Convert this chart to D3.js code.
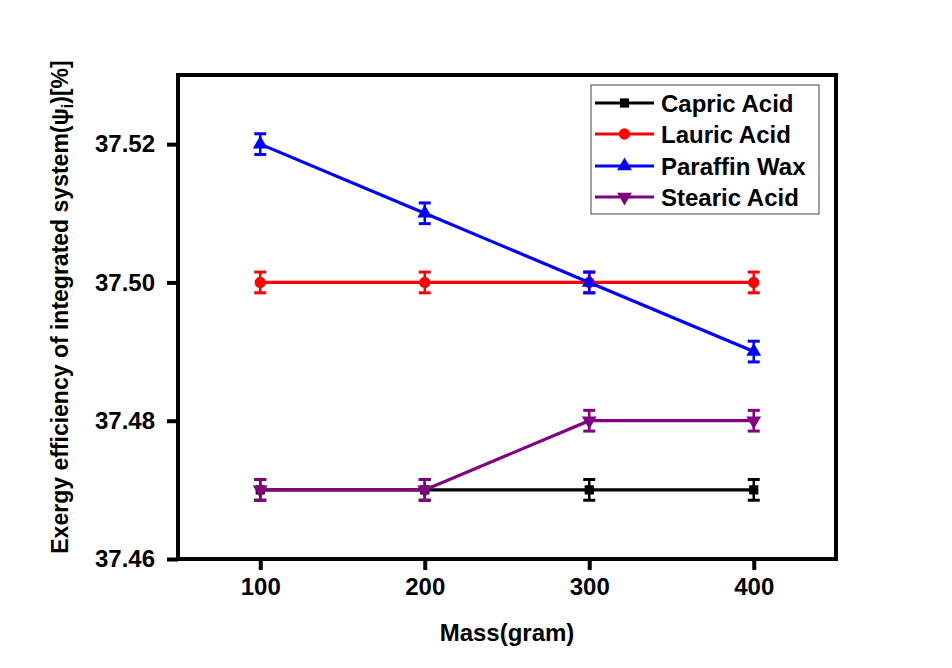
<!DOCTYPE html>
<html>
<head>
<meta charset="utf-8">
<script src="https://cdn.jsdelivr.net/npm/d3@7/dist/d3.min.js"></script>
<style>
  html, body { margin: 0; padding: 0; background: #ffffff; }
  svg { display: block; }
  text { font-family: "Liberation Sans", Arial, sans-serif; font-weight: bold; }
</style>
</head>
<body>
<svg id="chart" width="952" height="668"></svg>
<script>
// Mass of PCM (gram) on the x axis
const masses = [100, 200, 300, 400];
const seriesNames = ["Capric Acid", "Lauric Acid", "Paraffin Wax", "Stearic Acid"];
const seriesColors = ["#000000", "#ff0000", "#0000ff", "#800080"];
const seriesSymbols = ["square", "circle", "triangleUp", "triangleDown"];
const capricValues = [37.47, 37.47, 37.47, 37.47];
const lauricValues = [37.50, 37.50, 37.50, 37.50];
const paraffinValues = [37.52, 37.51, 37.50, 37.49];
const stearicValues = [37.47, 37.47, 37.48, 37.48];
const errorHalf = 0.0015;
const xTicks = [100, 200, 300, 400];
const yTicks = [37.46, 37.48, 37.50, 37.52];

const seriesValues = [capricValues, lauricValues, paraffinValues, stearicValues];

const svg = d3.select("#chart");
const plot = { left: 178, right: 836, top: 75, bottom: 559 };

const x = d3.scaleLinear().domain([50, 450]).range([plot.left, plot.right]);
const y = d3.scaleLinear().domain([37.46, 37.53]).range([plot.bottom, plot.top]);

// Axes with outward ticks
const xAxis = svg.append("g")
  .attr("transform", `translate(0,${plot.bottom})`)
  .call(d3.axisBottom(x).tickValues(xTicks).tickSize(11).tickPadding(8).tickFormat(d3.format("d")));
const yAxis = svg.append("g")
  .attr("transform", `translate(${plot.left},0)`)
  .call(d3.axisLeft(y).tickValues(yTicks).tickSize(11).tickPadding(12).tickFormat(d3.format(".2f")));

[xAxis, yAxis].forEach(g => {
  g.select(".domain").remove();
  g.selectAll(".tick line").attr("stroke", "#000").attr("stroke-width", 4);
  g.selectAll(".tick text").attr("fill", "#000").style("font-size", "24px")
    .style("font-family", "'Liberation Sans', Arial, sans-serif").style("font-weight", "bold");
});

// Frame
svg.append("rect")
  .attr("x", plot.left).attr("y", plot.top)
  .attr("width", plot.right - plot.left).attr("height", plot.bottom - plot.top)
  .attr("fill", "none").attr("stroke", "#000").attr("stroke-width", 4);

const symbolTypes = {
  square: d3.symbolSquare,
  circle: d3.symbolCircle,
  triangleUp: d3.symbolTriangle,
  triangleDown: d3.symbolTriangle
};
function symbolPath(kind, size) {
  return d3.symbol().type(symbolTypes[kind]).size(size)();
}
function symbolTransform(kind, cx, cy) {
  return kind === "triangleDown" ? `translate(${cx},${cy}) rotate(180)` : `translate(${cx},${cy})`;
}
const symbolSizes = { square: 85, circle: 100, triangleUp: 95, triangleDown: 95 };

const line = d3.line().x(d => x(d.m)).y(d => y(d.v));

seriesNames.forEach((name, i) => {
  const color = seriesColors[i];
  const kind = seriesSymbols[i];
  const pts = masses.map((m, j) => ({ m, v: seriesValues[i][j] }));
  const g = svg.append("g");

  g.append("path").datum(pts)
    .attr("d", line).attr("fill", "none")
    .attr("stroke", color).attr("stroke-width", 3.2);

  // Error bars
  pts.forEach(p => {
    const cx = x(p.m), y0 = y(p.v - errorHalf), y1 = y(p.v + errorHalf);
    g.append("line").attr("x1", cx).attr("x2", cx).attr("y1", y0).attr("y2", y1)
      .attr("stroke", color).attr("stroke-width", 2.5);
    [y0, y1].forEach(yy => g.append("line")
      .attr("x1", cx - 6).attr("x2", cx + 6).attr("y1", yy).attr("y2", yy)
      .attr("stroke", color).attr("stroke-width", 3));
  });

  g.selectAll("path.marker").data(pts).enter().append("path")
    .attr("class", "marker")
    .attr("d", symbolPath(kind, symbolSizes[kind]))
    .attr("transform", p => symbolTransform(kind, x(p.m), y(p.v)))
    .attr("fill", color);
});

// Legend
const legend = svg.append("g");
legend.append("rect")
  .attr("x", 591).attr("y", 85).attr("width", 228).attr("height", 129)
  .attr("fill", "#fff").attr("stroke", "#444").attr("stroke-width", 1);
const rowY = [103, 134, 166, 197];
seriesNames.forEach((name, i) => {
  const ly = rowY[i];
  legend.append("line").attr("x1", 595).attr("x2", 654).attr("y1", ly).attr("y2", ly)
    .attr("stroke", seriesColors[i]).attr("stroke-width", 3);
  legend.append("path")
    .attr("d", symbolPath(seriesSymbols[i], symbolSizes[seriesSymbols[i]]))
    .attr("transform", symbolTransform(seriesSymbols[i], 624.5, ly))
    .attr("fill", seriesColors[i]);
  legend.append("text").attr("x", 661).attr("y", ly + 9)
    .style("font-size", "24px").attr("fill", "#000").text(name);
});

// Axis titles
svg.append("text")
  .attr("x", 507).attr("y", 641)
  .attr("text-anchor", "middle").style("font-size", "24px").text("Mass(gram)");

const yTitle = svg.append("text")
  .attr("transform", `translate(68,307) rotate(-90)`)
  .attr("text-anchor", "middle").style("font-size", "23px");
yTitle.append("tspan").text("Exergy efficiency of integrated system(\u03c8");
yTitle.append("tspan").attr("dy", 5).style("font-size", "16px").text("i");
yTitle.append("tspan").attr("dy", -5).text(")[%]");
</script>
</body>
</html>
